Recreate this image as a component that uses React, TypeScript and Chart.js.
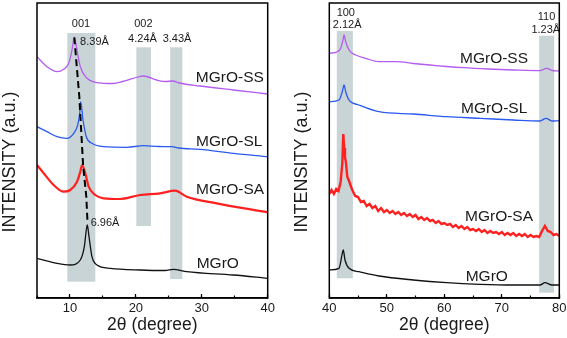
import React, { useEffect, useRef } from "react";
import { Chart, registerables } from "chart.js";
Chart.register(...registerables);

const FONT = "'Liberation Sans', Arial, sans-serif";

// ---------- Left panel (2θ 5–40) ----------
const L_SS: [number, number][] = [[5.0,241.3],[6.52,231.3],[8.03,226.3],[9.05,228.7],[9.81,234.7],[10.31,248],[10.5,256],[10.66,260.7],[10.85,256],[11.07,248],[11.57,231.3],[12.59,219.7],[13.85,215.7],[15.12,214.7],[16.5,214.5],[18.0,216.5],[19.61,219.7],[21.13,222],[23.16,218],[24.5,216.5],[25.6,217],[26.6,215],[29.73,212],[34.78,208],[40.0,204]];
const L_SL: [number, number][] = [[5.0,171.3],[6.52,166.3],[8.03,161.3],[9.55,159.7],[10.57,164.7],[11.18,173],[11.48,184.7],[11.63,196.3],[11.98,178],[12.48,161.3],[13.34,154.7],[15.12,151.3],[18.66,150.7],[21.13,152.3],[23.5,151.5],[25.44,151.3],[26.5,150],[29.73,148.7],[34.78,144.7],[40.0,141.3]];
const L_SA: [number, number][] = [[5.0,133],[6.02,124.7],[7.53,113],[9.05,106.3],[10.05,108],[11.07,116.3],[11.57,126.3],[11.83,133],[12.33,124.7],[12.84,111.3],[13.85,103],[15.12,99.7],[17.5,99],[20.63,103],[23.66,104.7],[25.94,107.3],[27.71,101.3],[32.26,94.7],[40.0,85.7]];
const L_MGRO: [number, number][] = [[5.0,39.7],[8.03,34.7],[10.05,33],[11.57,38],[12.18,51.3],[12.48,68],[12.63,73],[12.89,61.3],[13.34,41.3],[14.1,33],[16.12,29.7],[20.63,28],[24.42,27.5],[25.68,28.7],[27.71,26.3],[34.78,23],[40.0,19.7]];
const L_DASH: [number, number][] = [[10.66,260.7],[11.42,201.3],[12.0,132],[12.48,101.3],[12.66,76]];
const L_BAND_X0 = [9.6, 20.07, 25.2];
const L_BAND_X1 = [13.85, 22.3, 27.05];
const L_BAND_LO = [16.3, 72, 19];
const L_BAND_HI = [265, 250.7, 250.7];
const L_NOTE_TEXT = ["001", "8.39Å", "002", "4.24Å", "3.43Å", "6.96Å"];
const L_NOTE_X = [11.68, 13.72, 21.13, 21.0, 26.24, 15.32];
const L_NOTE_Y = [274, 256, 274, 259, 259, 75.5];
const SERIES_NAMES = ["MGrO-SS", "MGrO-SL", "MGrO-SA", "MGrO"];
const L_NAME_X = [29.1, 29.13, 29.13, 29.23];
const L_NAME_Y = [220, 156.3, 108, 34];
const L_TICK_MIN = 5;
const L_TICK_MAX = 40;

// ---------- Right panel (2θ 40–80) ----------
const R_SS: [number, number][] = [[40,244.7],[41.39,246.3],[41.98,249.7],[42.38,258],[42.56,263],[42.85,256.3],[43.43,248],[44.59,243],[46.33,239.7],[48.64,236.3],[51.72,236.3],[54.6,234.5],[57.51,233],[60.4,231.5],[63.3,230.3],[67.6,229],[72.0,228],[76.64,227.3],[77.81,229.7],[78.73,227.5],[80,227]];
const R_SL: [number, number][] = [[40,196.3],[41.69,198],[42.26,206.3],[42.56,213],[42.85,206.3],[43.43,198],[45.17,193],[48.64,186.3],[54.61,184],[60.42,181.3],[66.21,179.7],[72.0,178],[76.64,177],[77.69,179.7],[78.73,177],[80,177.3]];
const R_SA: [number, number][] = [[40,104],[40.4,108],[40.8,104],[41.2,109],[41.6,107],[41.98,116.3],[42.26,134.7],[42.43,164],[42.6,150],[42.73,141.3],[42.9,135],[43.13,121.3],[43.5,116],[43.8,111],[44.0,108],[44.5,102],[45.0,101],[45.5,96],[46.0,97],[46.5,92],[47.0,94],[47.5,90],[48.0,92],[48.5,87],[49.0,90],[49.5,86],[50.0,88],[50.5,85],[51.0,87],[51.5,84],[52.0,86],[52.5,83],[53.0,85],[53.5,82],[54.0,84],[54.5,81],[55.0,83],[55.5,79],[56.0,81],[56.5,78],[57.0,80],[57.5,77],[58.0,78],[58.5,75],[59.0,77],[59.5,74],[60.0,75],[60.5,73],[61.0,74],[61.5,71],[62.0,73],[62.5,70],[63.0,72],[63.5,69],[64.0,71],[64.5,68],[65.0,69],[65.5,67],[66.0,69],[66.5,66],[67.0,68],[67.5,65],[68.0,67],[68.5,65],[69.0,66],[69.5,64],[70.0,66],[70.5,63],[71.0,65],[71.5,63],[72.0,65],[72.5,62],[73.0,64],[73.5,62],[74.0,64],[74.5,61],[75.0,63],[75.5,61],[76.0,62],[76.5,61],[77.0,67],[77.5,72],[78.0,67],[78.5,66],[79.0,63],[79.5,64],[80.0,62]];
const R_MGRO: [number, number][] = [[40,28],[41.69,29.7],[42.26,44.7],[42.43,48],[42.73,38],[43.43,29.7],[45.17,26.3],[48.64,22],[54.61,18],[60.42,15.3],[66.21,13.7],[72.0,13],[76.64,13],[77.51,15.3],[78.73,13],[80,13]];
const R_BAND_X0 = [41.3, 76.5];
const R_BAND_X1 = [44.1, 79.1];
const R_BAND_LO = [19.7, 5.3];
const R_BAND_HI = [267, 262.3];
const R_NOTE_TEXT = ["100", "2.12Å", "110", "1.23Å"];
const R_NOTE_X = [42.87, 43.11, 77.78, 77.65];
const R_NOTE_Y = [285.5, 273, 281, 268.3];
const R_NAME_X = [62.73, 62.9, 63.6, 63.72];
const R_NAME_Y = [239, 189, 81, 21];
const R_TICK_MIN = 40;
const R_TICK_MAX = 80;

const Y_MIN = 0;
const Y_MAX = 295;
const X_TITLE = "2θ (degree)";
const Y_TITLE = "INTENSITY (a.u.)";

const COLORS = ["#b45cf0", "#2a5af0", "#ff2020", "#111111"];
const BAND_COLOR = "#c9d4d6";
const TEXT_COLOR = "#1a1a1a";

type PanelDef = {
  series: [number, number][][];
  dash?: [number, number][];
  bandX0: number[]; bandX1: number[]; bandLo: number[]; bandHi: number[];
  noteText: string[]; noteX: number[]; noteY: number[];
  nameX: number[]; nameY: number[];
  min: number; max: number;
  padL: number; padR: number;
  width: number; left: number;
  redWidth: number; redSmooth: boolean;
};

const toXY = (pts: [number, number][]) => pts.map(([x, y]) => ({ x, y }));

function panelPlugin(p: PanelDef) {
  return {
    id: "panelDecor",
    beforeDatasetsDraw(chart: any) {
      const { ctx } = chart;
      const xs = chart.scales.x, ys = chart.scales.y;
      ctx.save();
      ctx.fillStyle = BAND_COLOR;
      for (let i = 0; i < p.bandX0.length; i++) {
        const x0 = xs.getPixelForValue(p.bandX0[i]);
        const x1 = xs.getPixelForValue(p.bandX1[i]);
        const y0 = ys.getPixelForValue(p.bandHi[i]);
        const y1 = ys.getPixelForValue(p.bandLo[i]);
        ctx.fillRect(x0, y0, x1 - x0, y1 - y0);
      }
      ctx.restore();
    },
    afterDatasetsDraw(chart: any) {
      const { ctx, chartArea: a } = chart;
      const xs = chart.scales.x, ys = chart.scales.y;
      ctx.save();
      ctx.strokeStyle = "#000";
      ctx.lineWidth = 1.5;
      ctx.strokeRect(a.left, a.top, a.right - a.left, a.bottom - a.top);
      ctx.fillStyle = TEXT_COLOR;
      ctx.textBaseline = "middle";
      ctx.textAlign = "center";
      ctx.font = `11px ${FONT}`;
      p.noteText.forEach((t, i) => {
        ctx.fillText(t, xs.getPixelForValue(p.noteX[i]), ys.getPixelForValue(p.noteY[i]));
      });
      ctx.textAlign = "left";
      ctx.font = `15.5px ${FONT}`;
      SERIES_NAMES.forEach((t, i) => {
        ctx.fillText(t, xs.getPixelForValue(p.nameX[i]), ys.getPixelForValue(p.nameY[i]));
      });
      ctx.translate(a.left - 27, a.top + 159);
      ctx.rotate(-Math.PI / 2);
      ctx.textAlign = "center";
      ctx.font = `18px ${FONT}`;
      ctx.fillText(Y_TITLE, 0, 0);
      ctx.restore();
    },
  };
}

function makeConfig(p: PanelDef): any {
  const datasets: any[] = [];
  if (p.dash) {
    datasets.push({
      data: toXY(p.dash), borderColor: "#000", borderWidth: 2,
      borderDash: [7, 4], pointRadius: 0, tension: 0,
    });
  }
  p.series.forEach((s, i) => {
    const isRed = i === 2;
    const ds: any = {
      data: toXY(s), borderColor: COLORS[i],
      borderWidth: isRed ? p.redWidth : 1.3,
      pointRadius: 0,
    };
    if (isRed && !p.redSmooth) ds.tension = 0;
    else ds.cubicInterpolationMode = "monotone";
    datasets.push(ds);
  });
  return {
    type: "line",
    data: { datasets },
    options: {
      animation: false,
      responsive: false,
      devicePixelRatio: 1,
      events: [],
      layout: { padding: { left: p.padL, right: p.padR, top: 3, bottom: 0 } },
      plugins: { legend: { display: false }, tooltip: { enabled: false } },
      scales: {
        xm: {
          type: "linear", position: "bottom", min: p.min, max: p.max, weight: 0,
          ticks: { display: false, stepSize: 5 },
          grid: { drawOnChartArea: false, drawTicks: true, tickLength: -2.5, tickWidth: 1.2, tickColor: "#000" },
          border: { display: false },
          afterFit: (s: any) => { s.height = 0; s.paddingLeft = 0; s.paddingRight = 0; },
        },
        x: {
          type: "linear", position: "bottom", min: p.min, max: p.max, weight: 1,
          ticks: { stepSize: 10, includeBounds: false, padding: 7, maxRotation: 0, color: TEXT_COLOR, font: { family: FONT, size: 13 } },
          grid: { drawOnChartArea: false, drawTicks: true, tickLength: -4, tickWidth: 1.2, tickColor: "#000" },
          border: { display: true, color: "#000", width: 1.5 },
          title: { display: true, text: X_TITLE, color: TEXT_COLOR, font: { family: FONT, size: 17.5 }, padding: { top: 0, bottom: 2.5 } },
          afterFit: (s: any) => { s.height = 40; s.paddingLeft = 0; s.paddingRight = 0; },
        },
        y: { display: false, min: Y_MIN, max: Y_MAX },
      },
    },
    plugins: [panelPlugin(p)],
  };
}

const LEFT: PanelDef = {
  series: [L_SS, L_SL, L_SA, L_MGRO], dash: L_DASH,
  bandX0: L_BAND_X0, bandX1: L_BAND_X1, bandLo: L_BAND_LO, bandHi: L_BAND_HI,
  noteText: L_NOTE_TEXT, noteX: L_NOTE_X, noteY: L_NOTE_Y,
  nameX: L_NAME_X, nameY: L_NAME_Y,
  min: L_TICK_MIN, max: L_TICK_MAX, padL: 37, padR: 14.3, width: 282, left: 0,
  redWidth: 2.2, redSmooth: true,
};
const RIGHT: PanelDef = {
  series: [R_SS, R_SL, R_SA, R_MGRO],
  bandX0: R_BAND_X0, bandX1: R_BAND_X1, bandLo: R_BAND_LO, bandHi: R_BAND_HI,
  noteText: R_NOTE_TEXT, noteX: R_NOTE_X, noteY: R_NOTE_Y,
  nameX: R_NAME_X, nameY: R_NAME_Y,
  min: R_TICK_MIN, max: R_TICK_MAX, padL: 47.3, padR: 7.7, width: 285, left: 282,
  redWidth: 2.4, redSmooth: false,
};

function Panel({ def }: { def: PanelDef }) {
  const ref = useRef<HTMLCanvasElement>(null);
  useEffect(() => {
    const chart = new Chart(ref.current as HTMLCanvasElement, makeConfig(def));
    return () => chart.destroy();
  }, [def]);
  return (
    <canvas
      ref={ref}
      width={def.width}
      height={338}
      style={{ position: "absolute", left: def.left, top: 0, width: def.width, height: 338 }}
    />
  );
}

export default function App() {
  return (
    <div style={{ position: "fixed", left: 0, top: 0, width: 567, height: 338, background: "#fff", overflow: "hidden" }}>
      <Panel def={LEFT} />
      <Panel def={RIGHT} />
    </div>
  );
}
